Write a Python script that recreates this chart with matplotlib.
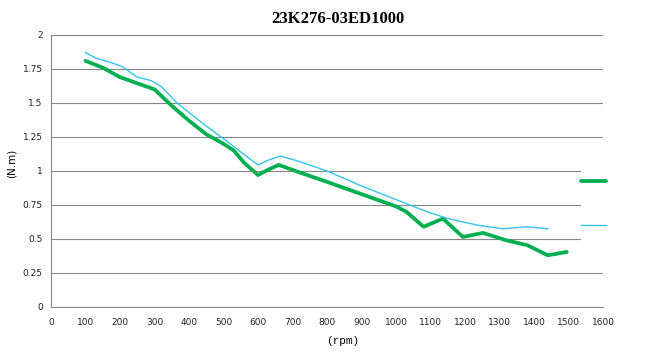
import numpy as np
import matplotlib
matplotlib.use("Agg")
import matplotlib.pyplot as plt
from matplotlib.patches import Rectangle

# torque curves
green_rpm = [100, 150, 200, 250, 300, 350, 400, 450, 500, 530, 560, 600, 630, 660, 720,
             800, 900, 1000, 1030, 1080, 1136, 1194, 1252, 1320, 1380, 1440, 1495]
green_torque = [1.81, 1.76, 1.69, 1.645, 1.60, 1.48, 1.37, 1.27, 1.20, 1.15, 1.06, 0.97,
                1.01, 1.045, 0.99, 0.92, 0.83, 0.74, 0.70, 0.59, 0.65, 0.515, 0.545, 0.49,
                0.455, 0.38, 0.405]

blue_rpm = [100, 130, 170, 205, 250, 290, 320, 365, 440, 530, 555, 600, 630, 665, 720,
            800, 900, 1020, 1080, 1150, 1240, 1310, 1380, 1440]
blue_torque = [1.87, 1.83, 1.80, 1.77, 1.69, 1.665, 1.62, 1.50, 1.35, 1.18, 1.13, 1.045,
               1.08, 1.11, 1.07, 1.00, 0.89, 0.77, 0.71, 0.65, 0.60, 0.575, 0.59, 0.575]

x_ticks = list(range(0, 1601, 100))
y_ticks = [0, 0.25, 0.5, 0.75, 1, 1.25, 1.5, 1.75, 2]
y_labels = ["0", "0.25", "0.5", "0.75", "1", "1.25", "1.5", "1.75", "2"]

fig = plt.figure(figsize=(6.5, 3.59), dpi=100)
ax = fig.add_axes([51 / 650, 1 - 307 / 359, 552 / 650, 272 / 359])

ax.plot(green_rpm, green_torque, color="#00b050", lw=2.7, solid_capstyle="round",
        solid_joinstyle="round", zorder=3)
ax.plot(blue_rpm, blue_torque, color="#33c3f0", lw=1.0, solid_joinstyle="round", zorder=3)

ax.set_xlim(0, 1600)
ax.set_ylim(0, 2)
ax.set_xticks(x_ticks)
ax.set_yticks(y_ticks)
ax.set_yticklabels(y_labels)
ax.tick_params(length=0, labelsize=6.5, colors="#222222")
ax.tick_params(axis="x", pad=8)
ax.tick_params(axis="y", pad=6)
ax.yaxis.grid(True, color="#878787", lw=0.8)
ax.set_axisbelow(True)
for s in ["top", "right"]:
    ax.spines[s].set_visible(False)
for s in ["left", "bottom"]:
    ax.spines[s].set_color("#878787")
    ax.spines[s].set_linewidth(0.8)

# white legend box sitting over the right end of the gridlines
ax.add_patch(Rectangle((581 / 650, 1 - 248 / 359), 69 / 650, 90 / 359,
                       transform=fig.transFigure, facecolor="white", edgecolor="none",
                       zorder=2, clip_on=False))
leg = ax.legend(["", ""], loc="upper left", bbox_to_anchor=(581 / 650, 1 - 176 / 359),
                bbox_transform=fig.transFigure, fontsize=7, handlelength=2.6,
                labelspacing=3.5, borderpad=0, borderaxespad=0, frameon=False)

fig.text(338 / 650, 1 - 19 / 359, "23K276-03ED1000", ha="center", va="center",
         fontsize=12, fontweight="bold", family="Liberation Serif")
fig.text(343 / 650, 1 - 341 / 359, "(rpm)", ha="center", va="center",
         fontsize=8, family="Liberation Mono")
fig.text(12 / 650, 1 - 163 / 359, "(N.m)", ha="center", va="center",
         fontsize=7.5, rotation=90)

fig.savefig("out.png", dpi=100)
